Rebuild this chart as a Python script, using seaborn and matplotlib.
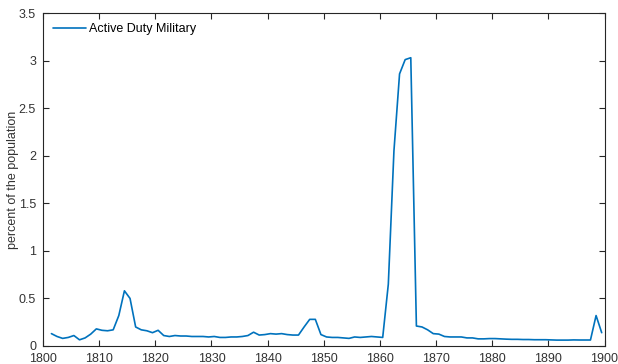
import numpy as np
import pandas as pd
import matplotlib
matplotlib.use("Agg")
import matplotlib.pyplot as plt
import seaborn as sns

years = list(range(1801, 1900))
military_pct = [
    0.13, 0.10, 0.08, 0.09, 0.11, 0.065, 0.085, 0.125, 0.18, 0.165,   # 1801-1810
    0.16, 0.17, 0.32, 0.58, 0.50, 0.20, 0.17, 0.16, 0.14, 0.165,      # 1811-1820
    0.11, 0.10, 0.11, 0.105, 0.105, 0.10, 0.10, 0.10, 0.095, 0.10,    # 1821-1830
    0.09, 0.09, 0.095, 0.095, 0.10, 0.11, 0.145, 0.115, 0.12, 0.13,   # 1831-1840
    0.125, 0.13, 0.12, 0.115, 0.115, 0.20, 0.28, 0.28, 0.12, 0.095,   # 1841-1850
    0.09, 0.09, 0.085, 0.08, 0.095, 0.09, 0.095, 0.10, 0.095, 0.09,   # 1851-1860
    0.65, 2.05, 2.86, 3.01, 3.03, 0.21, 0.20, 0.17, 0.13, 0.125,      # 1861-1870
    0.10, 0.095, 0.095, 0.095, 0.085, 0.085, 0.075, 0.075, 0.078, 0.078,  # 1871-1880
    0.075, 0.072, 0.07, 0.07, 0.068, 0.068, 0.066, 0.066, 0.066, 0.064,   # 1881-1890
    0.062, 0.062, 0.062, 0.064, 0.063, 0.063, 0.063, 0.32, 0.14,          # 1891-1899
]
series_label = "Active Duty Military"
xticks = list(range(1800, 1901, 10))
yticks = [0, 0.5, 1, 1.5, 2, 2.5, 3, 3.5]
ytick_labels = ["0", "0.5", "1", "1.5", "2", "2.5", "3", "3.5"]

sns.set_theme(style="white")
plt.rcParams["font.family"] = ["Liberation Sans", "DejaVu Sans"]

df = pd.DataFrame({"year": np.array(years) + 0.5, "pct": military_pct, "series": series_label})

fig = plt.figure(figsize=(6.18, 3.64), dpi=100)
ax = fig.add_axes([43 / 618, 1 - 346 / 364, (604.5 - 43) / 618, (346 - 13) / 364])

sns.lineplot(data=df, x="year", y="pct", hue="series", palette=["#0072BD"],
             linewidth=1.2, ax=ax, legend=True)

ax.set_xlim(1800, 1900)
ax.set_ylim(0, 3.5)
ax.set_xticks(xticks)
ax.set_xticklabels([str(t) for t in xticks])
ax.set_yticks(yticks)
ax.set_yticklabels(ytick_labels)
ax.set_xlabel("")
ax.set_ylabel("percent of the population", fontsize=9, color="#333333", labelpad=0)

edge = "#262626"
tick_text = "#333333"
for s in ax.spines.values():
    s.set_visible(True)
    s.set_color(edge)
    s.set_linewidth(0.8)
ax.tick_params(axis="both", which="both", direction="in", length=4, width=0.8,
               colors=edge, labelcolor=tick_text, labelsize=9, top=True, right=True,
               bottom=True, left=True, labeltop=False, labelright=False)
ax.tick_params(axis="x", pad=5)
ax.tick_params(axis="y", pad=5)

leg = ax.legend(loc="upper left", frameon=False, fontsize=9, handlelength=2.6,
                handletextpad=0.3, borderaxespad=0.4, bbox_to_anchor=(0.0, 1.0))
for t in leg.get_texts():
    t.set_color("#000000")

fig.savefig("out.png", dpi=100)
